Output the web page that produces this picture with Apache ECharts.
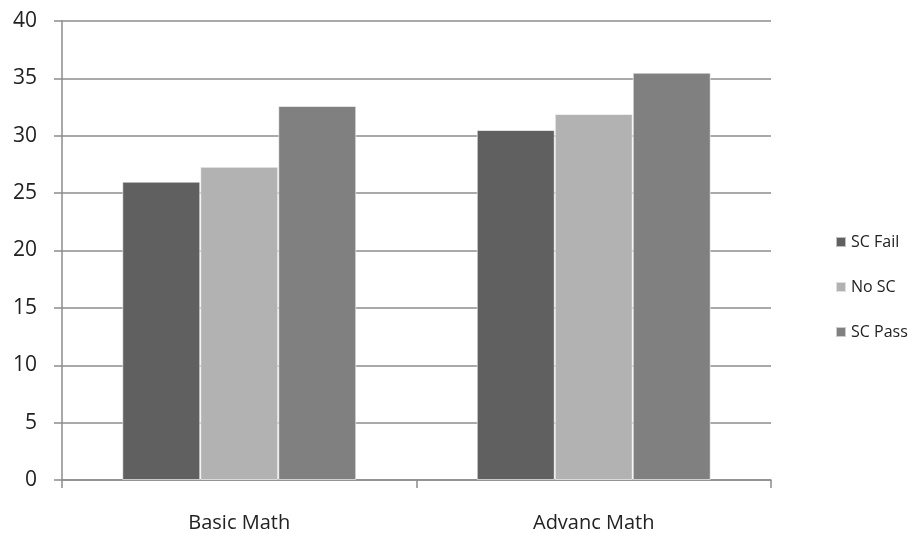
<!DOCTYPE html>
<html>
<head>
<meta charset="utf-8">
<script src="https://cdn.jsdelivr.net/npm/echarts@6/dist/echarts.min.js"></script>
<style>
  html, body { margin: 0; padding: 0; background: #ffffff; }
  #chart { width: 916px; height: 533px; }
</style>
</head>
<body>
<div id="chart"></div>
<script>
// Subjects on the category axis
const categories = ['Basic Math', 'Advanc Math'];
// Mean scores per group
const scFail = [26.0, 30.5];
const noSc = [27.3, 31.9];
const scPass = [32.6, 35.5];
const seriesNames = ['SC Fail', 'No SC', 'SC Pass'];
const seriesColors = ['#606060', '#b2b2b2', '#808080'];

const fontFamily = '"Open Sans", Lato, sans-serif';
const chart = echarts.init(document.getElementById('chart'));

function barSeries(name, data, color) {
  return {
    name: name,
    type: 'bar',
    data: data,
    barGap: '0%',
    barCategoryGap: '34%',
    itemStyle: { color: color, borderColor: 'rgba(255,255,255,0.6)', borderWidth: 1 }
  };
}

chart.setOption({
  animation: false,
  backgroundColor: '#ffffff',
  grid: { left: 62, right: 145, top: 21, bottom: 53 },
  legend: {
    orient: 'vertical',
    left: 830,
    top: 229,
    itemWidth: 10,
    itemHeight: 10,
    itemGap: 29,
    icon: 'rect',
    textStyle: { fontFamily: fontFamily, fontSize: 16, color: '#222' },
    data: seriesNames
  },
  xAxis: {
    type: 'category',
    data: categories,
    axisLine: { lineStyle: { color: '#8c8c8c', width: 1.5 } },
    axisTick: { show: true, length: 8, lineStyle: { color: '#8c8c8c', width: 1.5 } },
    axisLabel: { fontFamily: fontFamily, fontSize: 20, color: '#222', margin: 33 }
  },
  yAxis: {
    type: 'value',
    min: 0,
    max: 40,
    interval: 5,
    axisLine: { show: true, lineStyle: { color: '#8c8c8c', width: 1.5 } },
    axisTick: { show: true, length: 8, lineStyle: { color: '#8c8c8c', width: 1.5 } },
    splitLine: { lineStyle: { color: '#8c8c8c', width: 1.5 } },
    axisLabel: { fontFamily: fontFamily, fontSize: 21, color: '#222', margin: 25 }
  },
  series: [
    barSeries(seriesNames[0], scFail, seriesColors[0]),
    barSeries(seriesNames[1], noSc, seriesColors[1]),
    barSeries(seriesNames[2], scPass, seriesColors[2])
  ]
});
</script>
</body>
</html>
